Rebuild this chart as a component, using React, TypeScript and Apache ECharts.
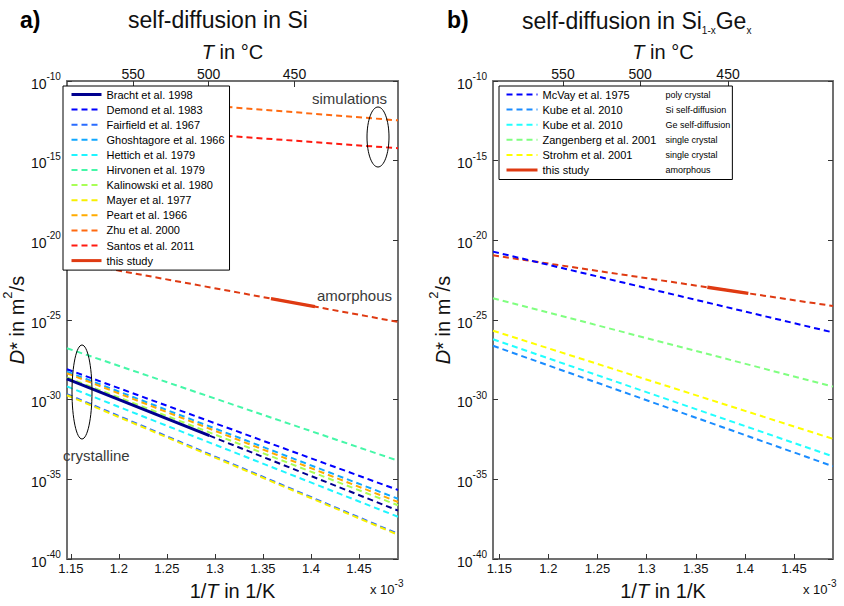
import React, { useEffect, useRef } from "react";
import * as echarts from "echarts";

const FONT = "'Liberation Sans', Arial, Helvetica, sans-serif";

// Axis extents: 1/T in 10^-3 K^-1, D* as log10(m^2/s)
const SI_X_RANGE = [1.1459, 1.4906];
const SIGE_X_RANGE = [1.1436, 1.4897];
const LOG_D_MIN = -40;
const LOG_D_MAX = -10;
const LOG_D_STEP = 5;
const INV_T_TICKS = [1.15, 1.2, 1.25, 1.3, 1.35, 1.4, 1.45];
const T_CELSIUS_TICKS = [550, 500, 450];

// a) self-diffusion in Si: Arrhenius lines as [1/T, log10 D*]
const bracht1998 = [[1.1459, -28.7], [1.2943, -32.26]];
const bracht1998Extrapolated = [[1.2943, -32.26], [1.4906, -36.96]];
const demond1983 = [[1.1459, -28.09], [1.4906, -35.67]];
const fairfield1967 = [[1.1459, -29.65], [1.4906, -38.42]];
const ghoshtagore1966 = [[1.1459, -28.24], [1.4906, -36.22]];
const hettich1979 = [[1.1459, -29.17], [1.4906, -37.35]];
const hirvonen1979 = [[1.1459, -26.77], [1.4906, -33.83]];
const kalinowski1980 = [[1.1459, -28.6], [1.4906, -36.63]];
const mayer1977 = [[1.1459, -29.72], [1.4906, -38.48]];
const peart1966 = [[1.1459, -28.34], [1.4906, -36.42]];
const zhu2000 = [[1.1459, -10.84], [1.4906, -12.47]];
const santos2011 = [[1.1459, -12.71], [1.4906, -14.22]];
const thisStudySi = [[1.3583, -23.66], [1.4041, -24.16]];
const thisStudySiExtrapolated = [[1.1459, -21.3], [1.4906, -25.12]];

// b) self-diffusion in Si1-xGex
const mcvay1975 = [[1.1436, -20.71], [1.4897, -25.78]];
const kube2010Si = [[1.1436, -26.62], [1.4897, -34.18]];
const kube2010Ge = [[1.1436, -26.21], [1.4897, -33.56]];
const zangenberg2001 = [[1.1436, -23.63], [1.4897, -29.18]];
const strohm2001 = [[1.1436, -25.67], [1.4897, -32.46]];
const thisStudySiGe = [[1.3618, -22.94], [1.4035, -23.33]];
const thisStudySiGeExtrapolated = [[1.1436, -20.94], [1.4897, -24.12]];

const SI_KEYS = [
  "Bracht et al. 1998", "Demond et al. 1983", "Fairfield et al. 1967",
  "Ghoshtagore et al. 1966", "Hettich et al. 1979", "Hirvonen et al. 1979",
  "Kalinowski et al. 1980", "Mayer et al. 1977", "Peart et al. 1966",
  "Zhu et al. 2000", "Santos et al. 2011", "this study (Si)",
];
const SI_LABELS = [
  "Bracht et al. 1998", "Demond et al. 1983", "Fairfield et al. 1967",
  "Ghoshtagore et al. 1966", "Hettich et al. 1979", "Hirvonen et al. 1979",
  "Kalinowski et al. 1980", "Mayer et al. 1977", "Peart et al. 1966",
  "Zhu et al. 2000", "Santos et al. 2011", "this study",
];
const SIGE_KEYS = [
  "McVay et al. 1975", "Kube et al. 2010 (Si)", "Kube et al. 2010 (Ge)",
  "Zangenberg et al. 2001", "Strohm et al. 2001", "this study (SiGe)",
];
const SIGE_LABELS = [
  "McVay et al. 1975", "Kube et al. 2010", "Kube et al. 2010",
  "Zangenberg et al. 2001", "Strohm et al. 2001", "this study",
];
const SIGE_NOTES = [
  "poly crystal", "Si self-diffusion", "Ge self-diffusion",
  "single crystal", "single crystal", "amorphous",
];

const C = {
  bracht: "#00008f",
  demond: "#0000ff",
  fairfield: "#2a6cff",
  ghoshtagore: "#10a8ff",
  hettich: "#1ff5ff",
  hirvonen: "#45f7a8",
  kalinowski: "#a8ff55",
  mayer: "#f7f000",
  peart: "#ffab00",
  zhu: "#ff6a10",
  santos: "#ff1a10",
  study: "#df3a12",
  kubeSi: "#1a8cff",
  kubeGe: "#22ffff",
  zangenberg: "#80ff80",
  strohm: "#ffff00",
};

const DASH = [6, 4];
const AXIS_GRAY = "#707070";
const TEXT = "#111";

function line(name: string, data: number[][], color: string, axis: number, solid = false, width = 2, z = 2) {
  return {
    type: "line",
    name,
    data,
    xAxisIndex: axis,
    yAxisIndex: axis,
    symbol: "none",
    showSymbol: false,
    silent: true,
    z,
    lineStyle: { color, width, type: solid ? "solid" : DASH, cap: "butt" },
    itemStyle: { color },
    emphasis: { disabled: true },
  };
}

const toInvT = (c: number) => 1000 / (c + 273.15);

function bottomAxis(grid: number, range: number[]) {
  return {
    type: "value",
    gridIndex: grid,
    position: "bottom",
    min: range[0],
    max: range[1],
    axisLine: { show: true, onZero: false, lineStyle: { color: AXIS_GRAY, width: 2 } },
    axisTick: { show: true, inside: true, length: 5, customValues: INV_T_TICKS, lineStyle: { color: "#333" } },
    axisLabel: {
      show: true,
      customValues: INV_T_TICKS,
      formatter: (v: number) => String(v),
      fontFamily: FONT,
      fontSize: 13,
      color: TEXT,
      margin: 3,
    },
    splitLine: { show: false },
    name: "{n|1/}{i|T}{n| in 1/K}",
    nameLocation: "middle",
    nameGap: 22,
    nameTextStyle: {
      fontFamily: FONT,
      fontSize: 20,
      color: TEXT,
      rich: {
        n: { fontFamily: FONT, fontSize: 20, color: TEXT },
        i: { fontFamily: FONT, fontSize: 20, color: TEXT, fontStyle: "italic" },
      },
    },
  };
}

function topAxis(grid: number, range: number[]) {
  const vals = T_CELSIUS_TICKS.map(toInvT);
  return {
    type: "value",
    gridIndex: grid,
    position: "top",
    min: range[0],
    max: range[1],
    axisLine: { show: true, onZero: false, lineStyle: { color: AXIS_GRAY, width: 2 } },
    axisTick: { show: true, inside: true, length: 6, customValues: vals, lineStyle: { color: "#333" } },
    axisLabel: {
      show: true,
      customValues: vals,
      formatter: (v: number) => String(Math.round(1000 / v - 273.15)),
      fontFamily: FONT,
      fontSize: 14,
      color: TEXT,
      margin: 0,
    },
    splitLine: { show: false },
    name: "{i|T}{n| in °C}",
    nameLocation: "middle",
    nameGap: 5,
    nameTextStyle: {
      fontFamily: FONT,
      fontSize: 20,
      color: TEXT,
      rich: {
        n: { fontFamily: FONT, fontSize: 20, color: TEXT },
        i: { fontFamily: FONT, fontSize: 20, color: TEXT, fontStyle: "italic" },
      },
    },
  };
}

function leftAxis(grid: number) {
  return {
    type: "value",
    gridIndex: grid,
    position: "left",
    min: LOG_D_MIN,
    max: LOG_D_MAX,
    interval: LOG_D_STEP,
    axisLine: { show: true, onZero: false, lineStyle: { color: AXIS_GRAY, width: 2 } },
    axisTick: { show: true, inside: true, length: 5, lineStyle: { color: "#333" } },
    axisLabel: {
      show: true,
      margin: 6,
      formatter: (v: number) => `{b|10}{s|${Math.round(v)}}`,
      rich: {
        b: { fontFamily: FONT, fontSize: 14, lineHeight: 19, verticalAlign: "bottom", color: TEXT },
        s: { fontFamily: FONT, fontSize: 10, lineHeight: 10, verticalAlign: "top", color: TEXT },
      },
    },
    splitLine: { show: false },
    name: "{i|D}{n|* in m}{s|2}{n|/s}",
    nameLocation: "middle",
    nameGap: 37,
    nameTextStyle: {
      fontFamily: FONT,
      fontSize: 20,
      color: TEXT,
      rich: {
        n: { fontFamily: FONT, fontSize: 20, lineHeight: 26, verticalAlign: "bottom", color: TEXT },
        i: { fontFamily: FONT, fontSize: 20, lineHeight: 26, verticalAlign: "bottom", color: TEXT, fontStyle: "italic" },
        s: { fontFamily: FONT, fontSize: 13, lineHeight: 13, verticalAlign: "top", color: TEXT },
      },
    },
  };
}

function rightAxis(grid: number) {
  return {
    type: "value",
    gridIndex: grid,
    position: "right",
    min: LOG_D_MIN,
    max: LOG_D_MAX,
    interval: LOG_D_STEP,
    axisLine: { show: true, onZero: false, lineStyle: { color: AXIS_GRAY, width: 2 } },
    axisTick: { show: true, inside: true, length: 5, lineStyle: { color: "#333" } },
    axisLabel: { show: false },
    splitLine: { show: false },
  };
}

function legendBase(left: number, top: number) {
  return {
    orient: "vertical",
    left,
    top,
    itemWidth: 30,
    itemHeight: 13,
    itemGap: 4.1,
    backgroundColor: "#fff",
    borderColor: "#000",
    borderWidth: 1,
    borderRadius: 0,
    selectedMode: false,
    itemStyle: { opacity: 0 },
    textStyle: { fontFamily: FONT, fontSize: 11, color: "#000" },
  };
}

export default function App() {
  const ref = useRef<HTMLDivElement>(null);

  useEffect(() => {
    if (!ref.current) return;
    const chart = echarts.init(ref.current, undefined, { renderer: "svg" });

    const siSeries = [
      line("", thisStudySiExtrapolated, C.study, 0),
      line(SI_KEYS[9], zhu2000, C.zhu, 0),
      line(SI_KEYS[10], santos2011, C.santos, 0),
      line(SI_KEYS[5], hirvonen1979, C.hirvonen, 0),
      line(SI_KEYS[1], demond1983, C.demond, 0),
      line(SI_KEYS[3], ghoshtagore1966, C.ghoshtagore, 0),
      line(SI_KEYS[8], peart1966, C.peart, 0),
      line(SI_KEYS[6], kalinowski1980, C.kalinowski, 0),
      line(SI_KEYS[4], hettich1979, C.hettich, 0),
      line(SI_KEYS[2], fairfield1967, C.fairfield, 0),
      line(SI_KEYS[7], mayer1977, C.mayer, 0),
      line("", bracht1998Extrapolated, C.bracht, 0),
      line(SI_KEYS[0], bracht1998, C.bracht, 0, true, 3, 3),
      line(SI_KEYS[11], thisStudySi, C.study, 0, true, 3.5, 3),
    ];

    const siGeSeries = [
      line("", thisStudySiGeExtrapolated, C.study, 2),
      line(SIGE_KEYS[0], mcvay1975, C.demond, 2),
      line(SIGE_KEYS[3], zangenberg2001, C.zangenberg, 2),
      line(SIGE_KEYS[4], strohm2001, C.strohm, 2),
      line(SIGE_KEYS[2], kube2010Ge, C.kubeGe, 2),
      line(SIGE_KEYS[1], kube2010Si, C.kubeSi, 2),
      line(SIGE_KEYS[5], thisStudySiGe, C.study, 2, true, 3.5, 3),
    ];

    const siLabel: Record<string, string> = {};
    SI_KEYS.forEach((k, i) => (siLabel[k] = SI_LABELS[i]));
    const siGeLabel: Record<string, string> = {};
    SIGE_KEYS.forEach((k, i) => (siGeLabel[k] = `{a|${SIGE_LABELS[i]}}{b|${SIGE_NOTES[i]}}`));

    const annotationText = (text: string, x: number, y: number) => ({
      type: "text",
      x,
      y,
      z: 100,
      style: { text, fontFamily: FONT, fontSize: 15, fill: "#3a3a3a", verticalAlign: "middle" },
    });
    const ring = (cx: number, cy: number, rx: number, ry: number) => ({
      type: "ellipse",
      z: 100,
      shape: { cx, cy, rx, ry },
      style: { fill: "none", stroke: "#000", lineWidth: 1 },
    });
    const exponentNote = (x: number) => ({
      type: "text",
      x,
      y: 578,
      style: {
        text: "{n|x 10}{s|-3}",
        rich: {
          n: { fontFamily: FONT, fontSize: 13, lineHeight: 18, verticalAlign: "bottom", fill: "#111" },
          s: { fontFamily: FONT, fontSize: 10, lineHeight: 10, verticalAlign: "top", fill: "#111" },
        },
      },
    });

    chart.setOption({
      animation: false,
      backgroundColor: "#fff",
      grid: [
        { left: 59, top: 81, width: 339, height: 486 },
        { left: 493, top: 81, width: 340, height: 486 },
      ],
      xAxis: [
        bottomAxis(0, SI_X_RANGE),
        topAxis(0, SI_X_RANGE),
        bottomAxis(1, SIGE_X_RANGE),
        topAxis(1, SIGE_X_RANGE),
      ],
      yAxis: [leftAxis(0), rightAxis(0), leftAxis(1), rightAxis(1)],
      legend: [
        {
          ...legendBase(63, 86),
          padding: [3, 5, 4, 7],
          data: SI_KEYS.map((k, i) =>
            i === 0 || i === 11 ? { name: k, lineStyle: { width: 3 } } : { name: k }
          ),
          formatter: (n: string) => siLabel[n] ?? n,
        },
        {
          ...legendBase(499, 86),
          itemWidth: 31,
          padding: [3, 2, 4, 6],
          data: SIGE_KEYS.map((k, i) => (i === 5 ? { name: k, lineStyle: { width: 3 } } : { name: k })),
          formatter: (n: string) => siGeLabel[n] ?? n,
          textStyle: {
            fontFamily: FONT,
            fontSize: 11,
            color: "#000",
            rich: {
              a: { fontFamily: FONT, fontSize: 11, color: "#000", width: 123 },
              b: { fontFamily: FONT, fontSize: 9, color: "#000", width: 67 },
            },
          },
        },
      ],
      series: [...siSeries, ...siGeSeries],
      graphic: [
        {
          type: "text",
          x: 20,
          y: 20,
          style: { text: "a)", fontFamily: FONT, fontSize: 23, fontWeight: "bold", fill: "#000", verticalAlign: "middle" },
        },
        {
          type: "text",
          x: 128,
          y: 20,
          style: { text: "self-diffusion in Si", fontFamily: FONT, fontSize: 23, fill: "#111", verticalAlign: "middle" },
        },
        {
          type: "text",
          x: 447,
          y: 20,
          style: { text: "b)", fontFamily: FONT, fontSize: 23, fontWeight: "bold", fill: "#000", verticalAlign: "middle" },
        },
        {
          type: "text",
          x: 522,
          y: 9,
          style: {
            text: "{n|self-diffusion in Si}{s|1-x}{n|Ge}{s|x}",
            fill: "#111",
            rich: {
              n: { fontFamily: FONT, fontSize: 23, lineHeight: 23, verticalAlign: "top", fill: "#111" },
              s: { fontFamily: FONT, fontSize: 10, lineHeight: 26, verticalAlign: "bottom", fill: "#111" },
            },
          },
        },
        exponentNote(370),
        exponentNote(803),
        annotationText("simulations", 312, 98),
        ring(378, 137, 11, 30),
        annotationText("amorphous", 317, 295),
        annotationText("crystalline", 63, 455),
        ring(82, 392, 10, 47),
      ],
    });

    return () => chart.dispose();
  }, []);

  return (
    <div
      ref={ref}
      style={{ position: "fixed", left: 0, top: 0, width: 844, height: 606, background: "#fff" }}
    />
  );
}
